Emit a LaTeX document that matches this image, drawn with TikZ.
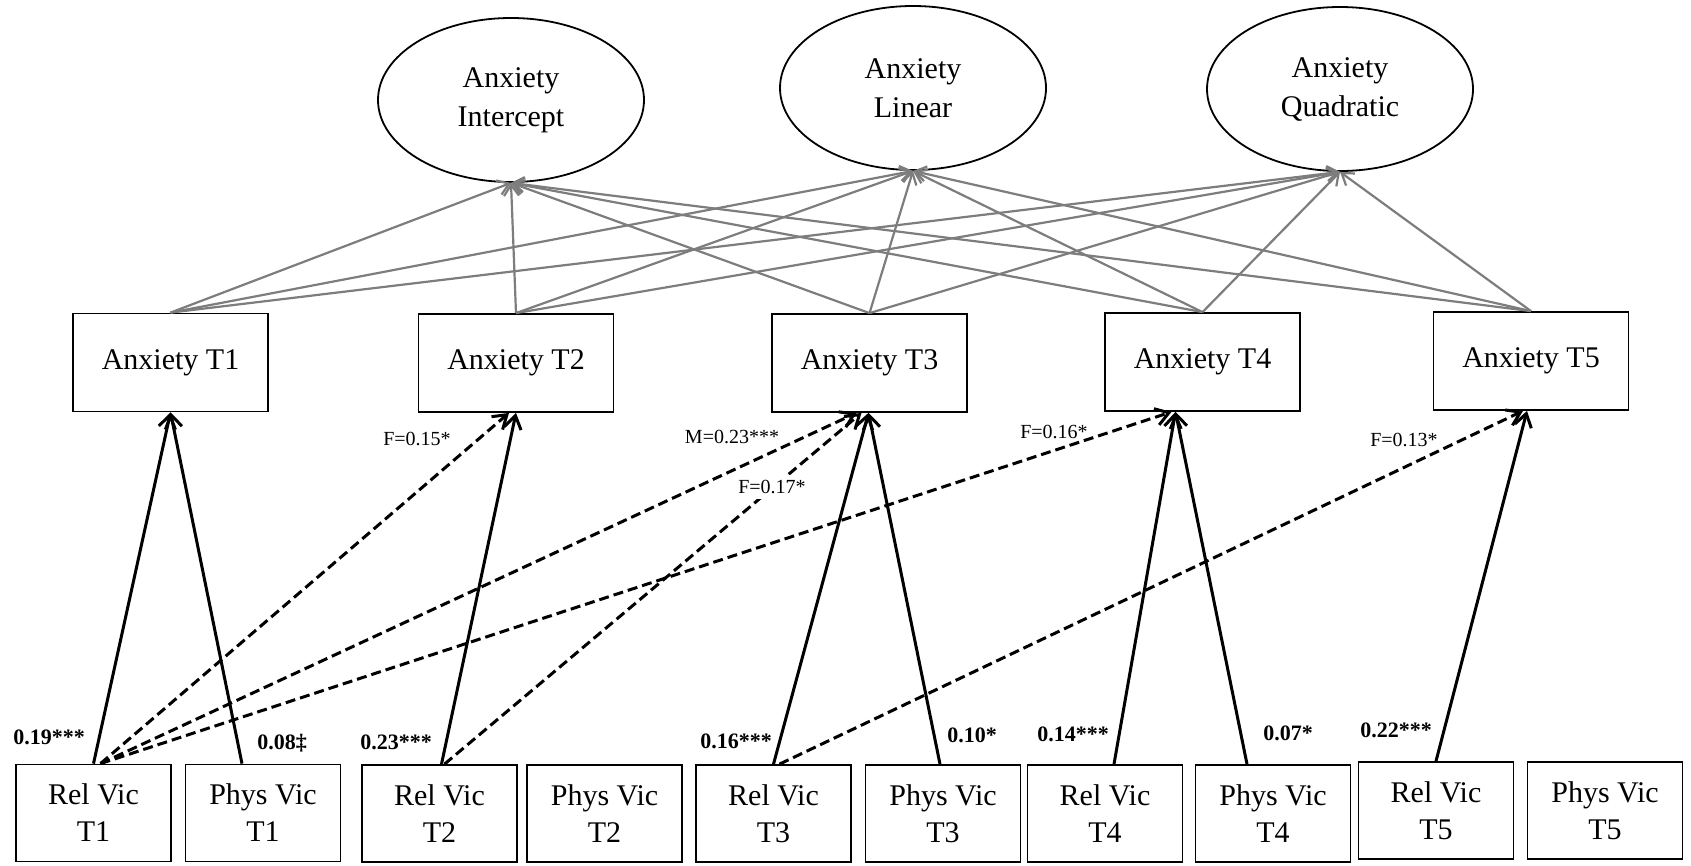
\documentclass[tikz,border=0pt]{standalone}
\usepackage{fontspec}
\setmainfont{Liberation Serif}
\usetikzlibrary{shapes.geometric,arrows.meta,calc}
\definecolor{lgray}{RGB}{125,125,125}
\begin{document}
\begin{tikzpicture}[x=1pt,y=-1pt,
  lat/.style={ellipse, draw, line width=1.8pt, minimum width=266pt, minimum height=164pt, align=center, font=\fontsize{30}{39}\selectfont, inner sep=0pt},
  anx/.style={rectangle, draw, line width=1.8pt, minimum width=195pt, minimum height=98pt, font=\fontsize{30}{38}\selectfont, fill=white, inner sep=0pt},
  vic/.style={rectangle, draw, line width=1.8pt, minimum width=155pt, minimum height=97pt, align=center, font=\fontsize{30}{37}\selectfont, fill=white, inner sep=0pt},
  gr/.style={draw=lgray, line width=2.2pt, -{Straight Barb[length=11pt,width=15pt]}},
  sol/.style={draw=black, line width=3pt, -{Straight Barb[length=13pt,width=17pt]}},
  dsh/.style={draw=black, line width=3pt, dash pattern=on 10pt off 5pt, -{Straight Barb[length=13pt,width=17pt]}},
  coef/.style={font=\bfseries\fontsize{22}{26}\selectfont, inner sep=1pt},
  elab/.style={font=\fontsize{20}{24}\selectfont, inner sep=2pt}
]
\useasboundingbox (0,0) rectangle (1691,865);

% latent factors
\node[lat] (I) at (511,100) {Anxiety\\Intercept};
\node[lat] (L) at (913,88) {Anxiety\\Linear};
\node[lat] (Q) at (1340,89) {Anxiety\\Quadratic};

% anxiety boxes
\node[anx] (A1) at (170.5,362.5) {Anxiety T1};
\node[anx] (A2) at (516,363) {Anxiety T2};
\node[anx] (A3) at (869.5,363) {Anxiety T3};
\node[anx] (A4) at (1202.5,362) {Anxiety T4};
\node[anx] (A5) at (1531,361) {Anxiety T5};

% victimization boxes
\node[vic] (R1) at (93.5,813) {Rel Vic\\T1};
\node[vic] (P1) at (263,813) {Phys Vic\\T1};
\node[vic] (R2) at (439.5,813.5) {Rel Vic\\T2};
\node[vic] (P2) at (604.5,813.5) {Phys Vic\\T2};
\node[vic] (R3) at (773.5,813.5) {Rel Vic\\T3};
\node[vic] (P3) at (943,813.5) {Phys Vic\\T3};
\node[vic] (R4) at (1105,813.5) {Rel Vic\\T4};
\node[vic] (P4) at (1273,813.5) {Phys Vic\\T4};
\node[vic] (R5) at (1436,810.5) {Rel Vic\\T5};
\node[vic] (P5) at (1605,810.5) {Phys Vic\\T5};

% growth loadings
\foreach \a in {A1,A2,A3,A4,A5}
  \foreach \l in {I,L,Q}
    \draw[gr] (\a.north) -- (\l.south);

% solid paths
\draw[sol] (R1.north) -- (A1.south);
\draw[sol] ([xshift=-21pt]P1.north) -- (A1.south);
\draw[sol] ([xshift=2pt]R2.north) -- (A2.south);
\draw[sol] (R3.north) -- ([xshift=-1pt]A3.south);
\draw[sol] ([xshift=-3pt]P3.north) -- ([xshift=-1pt]A3.south);
\draw[sol] ([xshift=9pt]R4.north) -- ([xshift=-27pt]A4.south);
\draw[sol] ([xshift=-26pt]P4.north) -- ([xshift=-27pt]A4.south);
\draw[sol] (R5.north) -- ([xshift=-4pt]A5.south);

% dashed cross paths
\draw[dsh] ([xshift=7pt]R1.north) -- ([xshift=-7pt]A2.south);
\draw[dsh] ([xshift=7pt]R1.north) -- ([xshift=-13pt]A3.south);
\draw[dsh] ([xshift=7pt]R1.north) -- ([xshift=-31pt]A4.south);
\draw[dsh] ([xshift=5pt]R2.north) -- ([xshift=-8pt]A3.south);
\draw[dsh] ([xshift=6pt]R3.north) -- ([xshift=-8pt]A5.south);

% edge labels
\node[elab] (l1) at (417,439) {F=0.15*};
\node[elab] (l2) at (732,437) {M=0.23***};
\node[elab, fill=white, inner sep=5pt] (l3) at (772,487) {F=0.17*};
\node[elab] (l4) at (1054,432) {F=0.16*};
\node[elab] (l5) at (1404,440) {F=0.13*};

% coefficients
\node[coef] (c1) at (49,737) {0.19***};
\node[coef] (c2) at (282,743) {0.08‡};
\node[coef] (c3) at (396,742) {0.23***};
\node[coef] (c4) at (736,741) {0.16***};
\node[coef] (c5) at (972,735) {0.10*};
\node[coef] (c6) at (1073,734) {0.14***};
\node[coef] (c7) at (1288,733) {0.07*};
\node[coef] (c8) at (1396,730) {0.22***};
\end{tikzpicture}
\end{document}
